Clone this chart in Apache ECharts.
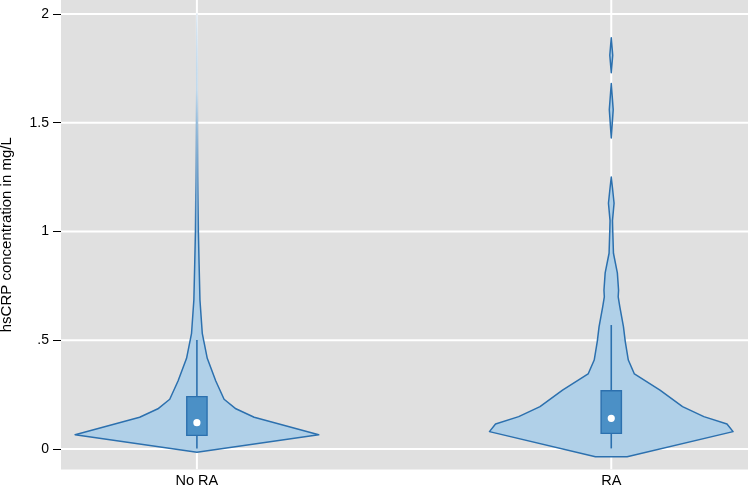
<!DOCTYPE html>
<html>
<head>
<meta charset="utf-8">
<script src="https://cdn.jsdelivr.net/npm/echarts@6/dist/echarts.min.js"></script>
<style>html,body{margin:0;padding:0;background:#fff}#c{width:749px;height:487px}</style>
</head>
<body>
<div id="c"></div>
<script>
const categories = ['No RA', 'RA'];
const yTicks = [0, 0.5, 1, 1.5, 2];
const yTickLabels = ['0', '.5', '1', '1.5', '2'];
const yTitle = 'hsCRP concentration in mg/L';

// density profiles (relative half-width, 1 = widest)
const noRaY = [-0.015, 0.066, 0.146, 0.185, 0.229, 0.313, 0.417, 0.532, 0.685, 0.85, 1.0, 1.25, 1.5, 1.75, 2.0];
const noRaW = [0, 1.0, 0.47, 0.32, 0.223, 0.155, 0.085, 0.044, 0.025, 0.018, 0.012, 0.008, 0.006, 0.004, 0];
const raY = [-0.035, 0.08, 0.115, 0.149, 0.195, 0.271, 0.345, 0.409, 0.494, 0.563, 0.655, 0.70, 0.73, 0.81, 0.90, 1.007, 1.05, 1.13, 1.2, 1.25, 1.43, 1.56, 1.68, 1.73, 1.81, 1.89];
const raW = [0.13, 1.0, 0.95, 0.76, 0.585, 0.40, 0.19, 0.14, 0.115, 0.10, 0.07, 0.057, 0.06, 0.05, 0.018, 0.012, 0.01, 0.023, 0.01, 0, 0, 0.016, 0, 0, 0.012, 0];

// box plot statistics
const boxQ1 = [0.063, 0.072];
const boxQ3 = [0.241, 0.268];
const boxMedian = [0.121, 0.141];
const whiskerLow = [0.003, 0.003];
const whiskerHigh = [0.501, 0.570];

const profiles = [[noRaY, noRaW], [raY, raW]];
const VIOLIN_HALF = 0.294;   // x-units for relative width 1
const BOX_HALF = 0.0245;
const LINE = '#2c70ae';
const FILL = '#b0d0e8';
const BOXFILL = '#4b90c6';

function strokeFor(i, seg, ys) {
  // the long thin upper tail of the first violin fades out
  const top = ys[seg[seg.length - 1]], bot = ys[seg[0]];
  if (i !== 0 || top < 1.5) return LINE;
  const off = v => (top - v) / (top - bot);
  return new echarts.graphic.LinearGradient(0, 0, 0, 1, [
    { offset: 0, color: 'rgba(44,112,174,0.15)' },
    { offset: off(1.65), color: 'rgba(44,112,174,0.05)' },
    { offset: off(1.3), color: 'rgba(44,112,174,0.55)' },
    { offset: off(1.0), color: LINE },
    { offset: 1, color: LINE }
  ]);
}

function violinRender(params, api) {
  const i = params.dataIndex;
  const xc = api.value(0);
  const ys = profiles[i][0], ws = profiles[i][1];
  // split into segments at zero-width points
  const segs = [];
  let cur = [];
  for (let k = 0; k < ys.length; k++) {
    cur.push(k);
    if (ws[k] === 0 && cur.length > 1) {
      segs.push(cur);
      cur = [k];
    }
  }
  if (cur.length > 1) segs.push(cur);
  const children = [];
  segs.forEach(seg => {
    if (seg.every(k => ws[k] === 0)) return;
    const left = [], right = [];
    seg.forEach(k => {
      left.push(api.coord([xc - ws[k] * VIOLIN_HALF, ys[k]]));
      right.push(api.coord([xc + ws[k] * VIOLIN_HALF, ys[k]]));
    });
    const pts = left.concat(right.reverse());
    children.push({
      type: 'polygon',
      shape: { points: pts },
      style: { fill: FILL, stroke: strokeFor(i, seg, ys), lineWidth: 1.5, lineJoin: 'round' }
    });
  });
  return { type: 'group', children };
}

function boxRender(params, api) {
  const i = params.dataIndex;
  const xc = api.value(0);
  const tl = api.coord([xc - BOX_HALF, boxQ3[i]]);
  const br = api.coord([xc + BOX_HALF, boxQ1[i]]);
  const wTop = api.coord([xc, whiskerHigh[i]]);
  const wBot = api.coord([xc, whiskerLow[i]]);
  const q3 = api.coord([xc, boxQ3[i]]);
  const q1 = api.coord([xc, boxQ1[i]]);
  const med = api.coord([xc, boxMedian[i]]);
  return {
    type: 'group',
    children: [
      { type: 'line', shape: { x1: wTop[0], y1: wTop[1], x2: q3[0], y2: q3[1] }, style: { stroke: LINE, lineWidth: 1.6 } },
      { type: 'line', shape: { x1: q1[0], y1: q1[1], x2: wBot[0], y2: wBot[1] }, style: { stroke: LINE, lineWidth: 1.6 } },
      { type: 'rect', shape: { x: tl[0], y: tl[1], width: br[0] - tl[0], height: br[1] - tl[1] }, style: { fill: BOXFILL, stroke: LINE, lineWidth: 1.4 } },
      { type: 'circle', shape: { cx: med[0], cy: med[1], r: 3.6 }, style: { fill: '#ffffff' } }
    ]
  };
}

function gridRender(params, api) {
  const cs = params.coordSys;
  const children = [];
  yTicks.forEach(v => {
    const p = api.coord([1, v]);
    children.push({ type: 'line', shape: { x1: cs.x, y1: p[1], x2: cs.x + cs.width, y2: p[1] }, style: { stroke: '#ffffff', lineWidth: 2 } });
  });
  categories.forEach((c, k) => {
    const p = api.coord([k + 1, 0]);
    children.push({ type: 'line', shape: { x1: p[0], y1: cs.y, x2: p[0], y2: cs.y + cs.height }, style: { stroke: '#ffffff', lineWidth: 2 } });
  });
  return { type: 'group', children };
}

const chart = echarts.init(document.getElementById('c'), null, { renderer: 'canvas' });
chart.setOption({
  animation: false,
  backgroundColor: '#ffffff',
  textStyle: { fontFamily: 'Liberation Sans, Arial, sans-serif' },
  grid: { left: 61, right: 1, top: 0, bottom: 17.5, show: true, backgroundColor: '#e0e0e0', borderWidth: 0, containLabel: false, outerBoundsMode: 'none' },
  xAxis: {
    type: 'value', min: 0.672, max: 2.33,
    axisLine: { show: false }, splitLine: { show: false },
    axisTick: { show: false },
    axisLabel: {
      customValues: categories.map((c, k) => k + 1),
      formatter: v => categories[Math.round(v) - 1] || '',
      color: '#000', fontSize: 14.5, margin: 4
    }
  },
  yAxis: {
    type: 'value', min: -0.094, max: 2.064,
    name: yTitle, nameLocation: 'middle', nameGap: 47, nameRotate: 90,
    nameTextStyle: { color: '#000', fontSize: 15 },
    axisLine: { show: false }, splitLine: { show: false },
    axisTick: { show: true, customValues: yTicks, length: 8, lineStyle: { color: '#000', width: 1 } },
    axisLabel: {
      customValues: yTicks,
      formatter: v => { const k = yTicks.findIndex(t => Math.abs(t - v) < 1e-6); return k >= 0 ? yTickLabels[k] : ''; },
      color: '#000', fontSize: 14, margin: 12
    }
  },
  series: [
    { type: 'custom', z: 1, renderItem: gridRender, data: [[1, 0]], silent: true, clip: true },
    { type: 'custom', z: 2, renderItem: violinRender, data: categories.map((c, k) => [k + 1, 0]), silent: true },
    { type: 'custom', z: 3, renderItem: boxRender, data: categories.map((c, k) => [k + 1, 0]), silent: true }
  ]
});
</script>
</body>
</html>
